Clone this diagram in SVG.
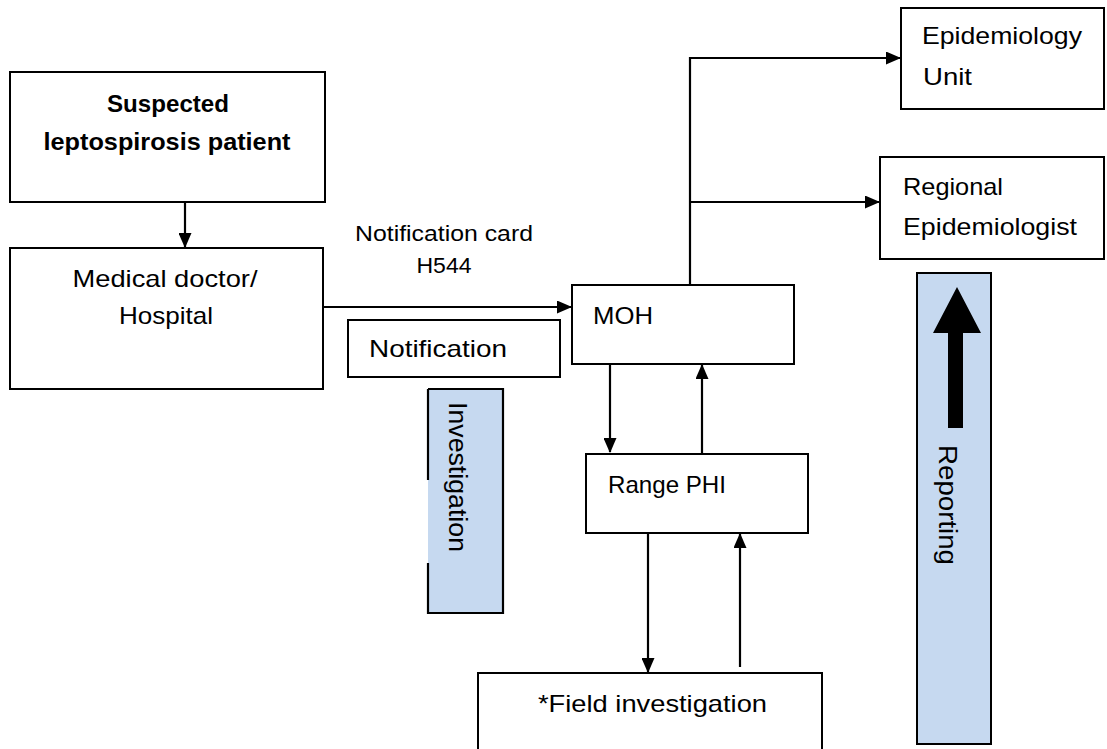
<svg xmlns="http://www.w3.org/2000/svg" width="1107" height="749" viewBox="0 0 1107 749">
<style>
.box{fill:#fff;stroke:#000;stroke-width:2}
.band{fill:#c6d9f0}
.edge{fill:none;stroke:#000;stroke-width:2.2}
.t{font-family:"Liberation Sans",Arial,sans-serif;font-size:24px;fill:#000}
.b{font-weight:bold}
.s{font-size:22px}
.v{font-family:"Liberation Sans",Arial,sans-serif;font-size:26px;fill:#000}
</style>
<defs>
<marker id="ah" markerUnits="userSpaceOnUse" markerWidth="15" markerHeight="13" refX="14" refY="6.5" orient="auto">
<path d="M0,0 L15,6.5 L0,13 Z" fill="#000"/>
</marker>
</defs>
<rect width="1107" height="749" fill="#fff"/>

<g id="connectors">
<line class="edge" x1="185" y1="202" x2="185" y2="247" marker-end="url(#ah)"/>
<line class="edge" x1="323" y1="307" x2="571" y2="307" marker-end="url(#ah)"/>
<polyline class="edge" points="690,285 690,58 900,58" marker-end="url(#ah)"/>
<line class="edge" x1="690" y1="202" x2="879" y2="202" marker-end="url(#ah)"/>
<line class="edge" x1="610" y1="364" x2="610" y2="452" marker-end="url(#ah)"/>
<line class="edge" x1="702" y1="454" x2="702" y2="365" marker-end="url(#ah)"/>
<line class="edge" x1="648" y1="533" x2="648" y2="672" marker-end="url(#ah)"/>
<line class="edge" x1="740" y1="667" x2="740" y2="534" marker-end="url(#ah)"/>
</g>

<g id="suspected">
<rect class="box" x="10" y="72" width="315" height="130"/>
<text class="t b" x="168" y="112" text-anchor="middle" textLength="122" lengthAdjust="spacingAndGlyphs">Suspected</text>
<text class="t b" x="167" y="150" text-anchor="middle" textLength="247" lengthAdjust="spacingAndGlyphs">leptospirosis patient</text>
</g>

<g id="doctor">
<rect class="box" x="10" y="248" width="313" height="141"/>
<text class="t" x="165" y="287" text-anchor="middle" textLength="185" lengthAdjust="spacingAndGlyphs">Medical doctor/</text>
<text class="t" x="166" y="324" text-anchor="middle" textLength="94" lengthAdjust="spacingAndGlyphs">Hospital</text>
</g>

<g id="notification-card-label">
<text class="t s" x="444" y="241" text-anchor="middle" textLength="178" lengthAdjust="spacingAndGlyphs">Notification card</text>
<text class="t s" x="444" y="273" text-anchor="middle" textLength="55" lengthAdjust="spacingAndGlyphs">H544</text>
</g>

<g id="notification">
<rect class="box" x="348" y="320" width="212" height="57"/>
<text class="t" x="369" y="357" textLength="138" lengthAdjust="spacingAndGlyphs">Notification</text>
</g>

<g id="investigation">
<rect class="band" x="428" y="389" width="75" height="224"/>
<polyline class="edge" points="428,389 503,389 503,613 428,613 428,563"/>
<line class="edge" x1="428" y1="389" x2="428" y2="480"/>
<text class="v" transform="translate(449,477) rotate(90)" text-anchor="middle" textLength="150" lengthAdjust="spacingAndGlyphs">Investigation</text>
</g>

<g id="moh">
<rect class="box" x="572" y="285" width="222" height="79"/>
<text class="t" x="593" y="324" textLength="60" lengthAdjust="spacingAndGlyphs">MOH</text>
</g>

<g id="range-phi">
<rect class="box" x="586" y="454" width="222" height="79"/>
<text class="t" x="608" y="493" textLength="118" lengthAdjust="spacingAndGlyphs">Range PHI</text>
</g>

<g id="field-investigation">
<rect class="box" x="478" y="673" width="344" height="90"/>
<text class="t" x="538" y="712" textLength="229" lengthAdjust="spacingAndGlyphs">*Field investigation</text>
</g>

<g id="epidemiology-unit">
<rect class="box" x="901" y="8" width="203" height="101"/>
<text class="t" x="922" y="44" textLength="160" lengthAdjust="spacingAndGlyphs">Epidemiology</text>
<text class="t" x="923" y="85" textLength="49" lengthAdjust="spacingAndGlyphs">Unit</text>
</g>

<g id="regional-epidemiologist">
<rect class="box" x="880" y="157" width="224" height="102"/>
<text class="t" x="903" y="195" textLength="100" lengthAdjust="spacingAndGlyphs">Regional</text>
<text class="t" x="903" y="235" textLength="174" lengthAdjust="spacingAndGlyphs">Epidemiologist</text>
</g>

<g id="reporting">
<rect class="band" x="917" y="273" width="74" height="471" stroke="#000" stroke-width="2"/>
<path d="M948,333 L963,333 L963,428 L948,428 Z M933,333 L981,333 L957,287 Z" fill="#000"/>
<text class="v" transform="translate(939,505) rotate(90)" text-anchor="middle" textLength="120" lengthAdjust="spacingAndGlyphs">Reporting</text>
</g>
</svg>
